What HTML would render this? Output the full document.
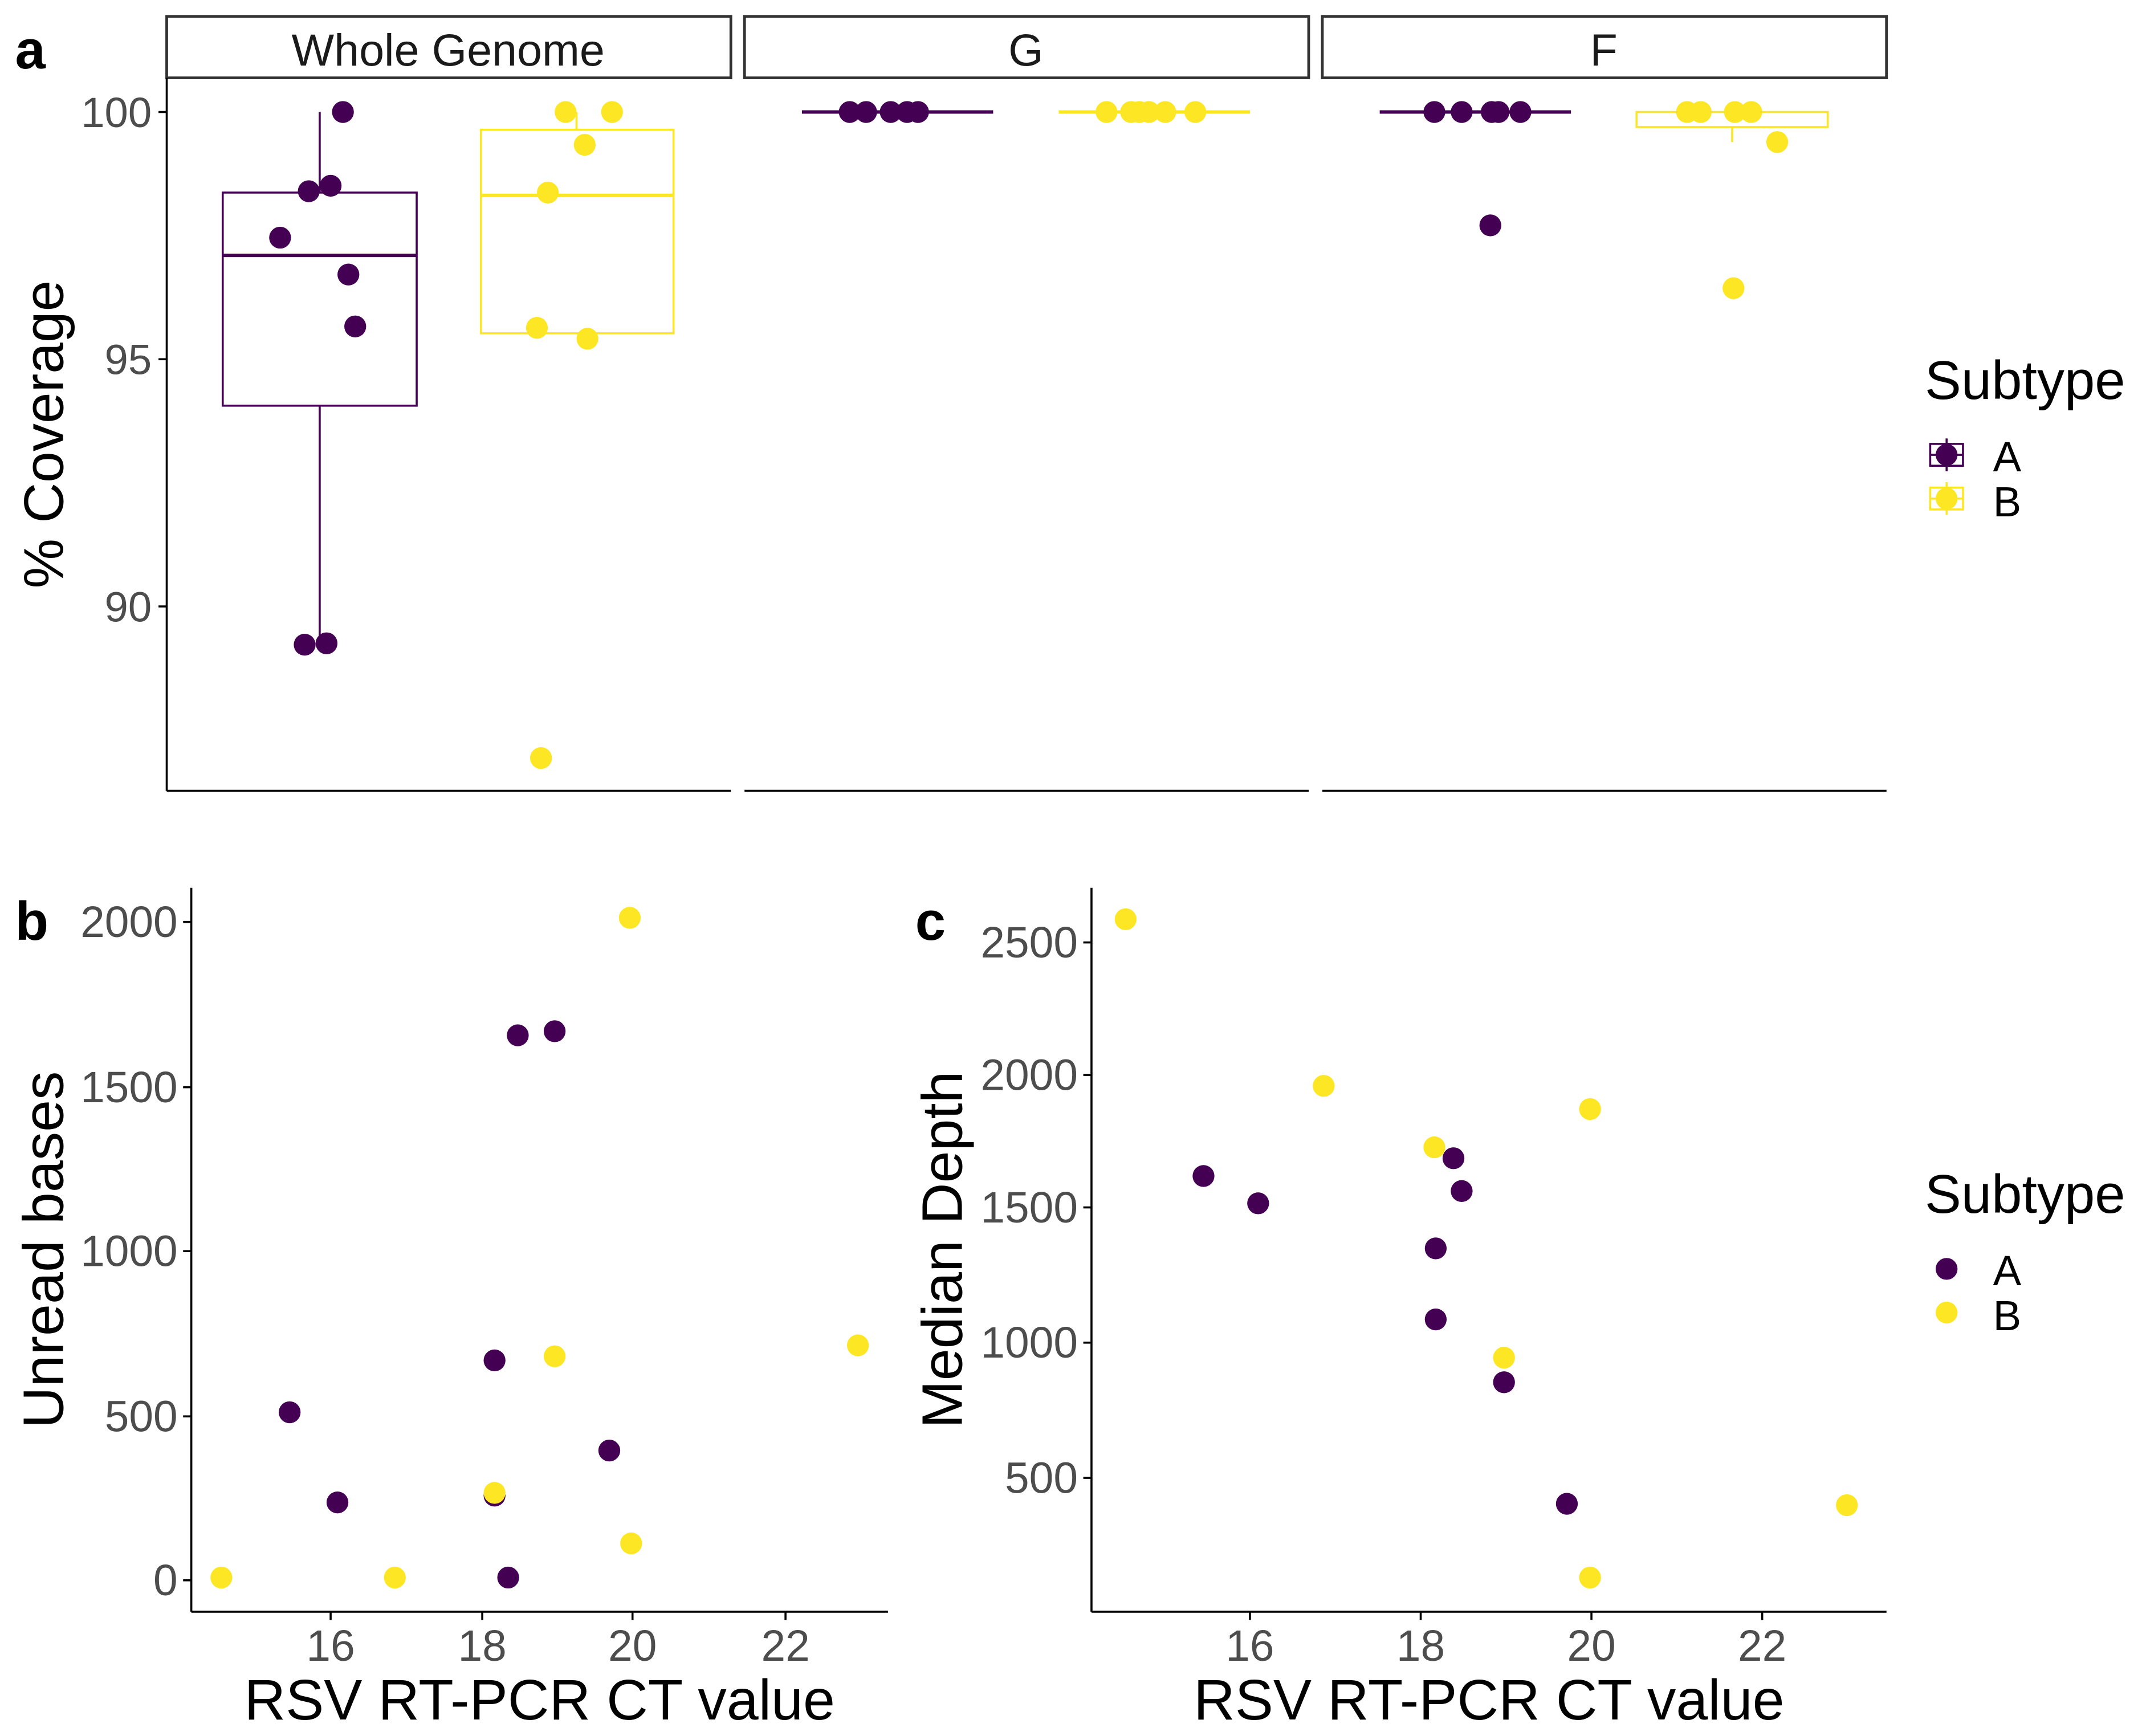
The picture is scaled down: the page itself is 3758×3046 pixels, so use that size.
<!DOCTYPE html>
<html><head><meta charset="utf-8"><style>html,body{margin:0;padding:0;background:#fff}svg{display:block}</style></head><body>
<svg xmlns="http://www.w3.org/2000/svg" width="3758" height="3046" viewBox="0 0 1568 1271" font-family="Liberation Sans, sans-serif">
<rect width="1568" height="1271" fill="#fff"/>
<g font-weight="bold" font-size="40" fill="#000">
<text x="11" y="50">a</text><text x="11" y="688">b</text><text x="670" y="688">c</text></g>
<!-- strips -->
<g fill="#fff" stroke="#333" stroke-width="2">
<rect x="122" y="12" width="413" height="45"/><rect x="545" y="12" width="413" height="45"/><rect x="968" y="12" width="413" height="45"/></g>
<g font-size="33" fill="#1a1a1a" text-anchor="middle">
<text x="328" y="48">Whole Genome</text><text x="751" y="48">G</text><text x="1174" y="48">F</text></g>
<!-- axes a -->
<g stroke="#000" stroke-width="1.5" fill="none">
<line x1="122" y1="57" x2="122" y2="579"/>
<line x1="122" y1="579" x2="535" y2="579"/><line x1="545" y1="579" x2="958" y2="579"/><line x1="968" y1="579" x2="1381" y2="579"/>
<line x1="116" y1="82" x2="122" y2="82"/><line x1="116" y1="263" x2="122" y2="263"/><line x1="116" y1="444" x2="122" y2="444"/></g>
<g font-size="31" fill="#4d4d4d" text-anchor="end">
<text x="111" y="93">100</text><text x="111" y="274">95</text><text x="111" y="455">90</text></g>
<text transform="translate(46,318) rotate(-90)" font-size="41" text-anchor="middle" fill="#000">% Coverage</text>
<!-- boxes -->
<g fill="none" stroke-width="1.5">
<g stroke="#440154">
<line x1="234" y1="82" x2="234" y2="141"/><line x1="234" y1="297" x2="234" y2="470"/>
<rect x="163" y="141" width="142" height="156"/><line x1="163" y1="187" x2="305" y2="187" stroke-width="2.5"/>
<line x1="587" y1="82" x2="727" y2="82" stroke-width="2.5"/>
<line x1="1010" y1="82" x2="1150" y2="82" stroke-width="2.5"/></g>
<g stroke="#FDE725">
<line x1="422" y1="82" x2="422" y2="95"/>
<rect x="352" y="95" width="141" height="149"/><line x1="352" y1="143" x2="493" y2="143" stroke-width="2.5"/>
<line x1="775" y1="82" x2="915" y2="82" stroke-width="2.5"/>
<rect x="1198" y="82" width="140" height="11"/><line x1="1268" y1="93" x2="1268" y2="104"/></g></g>
<g fill="#440154">
<circle cx="251" cy="82" r="8"/><circle cx="226" cy="140" r="8"/><circle cx="242" cy="136" r="8"/><circle cx="205" cy="174" r="8"/><circle cx="255" cy="201" r="8"/><circle cx="260" cy="239" r="8"/><circle cx="223" cy="472" r="8"/><circle cx="239" cy="471" r="8"/>
<circle cx="622" cy="82" r="8"/><circle cx="634" cy="82" r="8"/><circle cx="652" cy="82" r="8"/><circle cx="664" cy="82" r="8"/><circle cx="672" cy="82" r="8"/>
<circle cx="1050" cy="82" r="8"/><circle cx="1070" cy="82" r="8"/><circle cx="1092" cy="82" r="8"/><circle cx="1097" cy="82" r="8"/><circle cx="1113" cy="82" r="8"/><circle cx="1091" cy="165" r="8"/></g>
<g fill="#FDE725">
<circle cx="414" cy="82" r="8"/><circle cx="448" cy="82" r="8"/><circle cx="428" cy="106" r="8"/><circle cx="401" cy="141" r="8"/><circle cx="393" cy="240" r="8"/><circle cx="430" cy="248" r="8"/><circle cx="396" cy="555" r="8"/>
<circle cx="810" cy="82" r="8"/><circle cx="828" cy="82" r="8"/><circle cx="834" cy="82" r="8"/><circle cx="841" cy="82" r="8"/><circle cx="853" cy="82" r="8"/><circle cx="875" cy="82" r="8"/>
<circle cx="1235" cy="82" r="8"/><circle cx="1245" cy="82" r="8"/><circle cx="1270" cy="82" r="8"/><circle cx="1282" cy="82" r="8"/><circle cx="1301" cy="104" r="8"/><circle cx="1269" cy="211" r="8"/></g>
<!-- legend a -->
<text x="1409" y="292" font-size="40" fill="#000">Subtype</text>
<g stroke-width="1.5" fill="#fff">
<rect x="1413" y="325" width="24" height="16" stroke="#440154"/><line x1="1413" y1="333" x2="1437" y2="333" stroke="#440154"/><line x1="1425" y1="321" x2="1425" y2="345" stroke="#440154"/>
<rect x="1413" y="357" width="24" height="16" stroke="#FDE725"/><line x1="1413" y1="365" x2="1437" y2="365" stroke="#FDE725"/><line x1="1425" y1="353" x2="1425" y2="377" stroke="#FDE725"/></g>
<circle cx="1425" cy="333" r="8" fill="#440154"/><circle cx="1425" cy="365" r="8" fill="#FDE725"/>
<g font-size="31" fill="#000"><text x="1459" y="345">A</text><text x="1459" y="378">B</text></g>
<!-- panel b -->
<g stroke="#000" stroke-width="1.5">
<line x1="140" y1="650" x2="140" y2="1180"/><line x1="140" y1="1180" x2="650" y2="1180"/>
<line x1="134" y1="675" x2="140" y2="675"/><line x1="134" y1="796" x2="140" y2="796"/><line x1="134" y1="916" x2="140" y2="916"/><line x1="134" y1="1037" x2="140" y2="1037"/><line x1="134" y1="1157" x2="140" y2="1157"/>
<line x1="242" y1="1180" x2="242" y2="1186"/><line x1="353" y1="1180" x2="353" y2="1186"/><line x1="463" y1="1180" x2="463" y2="1186"/><line x1="575" y1="1180" x2="575" y2="1186"/></g>
<g font-size="32" fill="#4d4d4d" text-anchor="end">
<text x="130" y="686">2000</text><text x="130" y="807">1500</text><text x="130" y="927">1000</text><text x="130" y="1048">500</text><text x="130" y="1168">0</text></g>
<g font-size="32" fill="#4d4d4d" text-anchor="middle">
<text x="242" y="1216">16</text><text x="353" y="1216">18</text><text x="463" y="1216">20</text><text x="575" y="1216">22</text></g>
<text x="395" y="1259" font-size="42" text-anchor="middle">RSV RT-PCR CT value</text>
<text transform="translate(46,915) rotate(-90)" font-size="42" text-anchor="middle">Unread bases</text>
<g fill="#440154">
<circle cx="212" cy="1034" r="8"/><circle cx="247" cy="1100" r="8"/><circle cx="362" cy="996" r="8"/><circle cx="362" cy="1095" r="8"/><circle cx="372" cy="1155" r="8"/><circle cx="379" cy="758" r="8"/><circle cx="406" cy="755" r="8"/><circle cx="446" cy="1062" r="8"/></g>
<g fill="#FDE725">
<circle cx="162" cy="1155" r="8"/><circle cx="289" cy="1155" r="8"/><circle cx="362" cy="1093" r="8"/><circle cx="406" cy="993" r="8"/><circle cx="461" cy="672" r="8"/><circle cx="462" cy="1130" r="8"/><circle cx="628" cy="985" r="8"/></g>
<!-- panel c -->
<g stroke="#000" stroke-width="1.5">
<line x1="799" y1="650" x2="799" y2="1180"/><line x1="799" y1="1180" x2="1381" y2="1180"/>
<line x1="793" y1="690" x2="799" y2="690"/><line x1="793" y1="787" x2="799" y2="787"/><line x1="793" y1="884" x2="799" y2="884"/><line x1="793" y1="983" x2="799" y2="983"/><line x1="793" y1="1082" x2="799" y2="1082"/>
<line x1="915" y1="1180" x2="915" y2="1186"/><line x1="1040" y1="1180" x2="1040" y2="1186"/><line x1="1165" y1="1180" x2="1165" y2="1186"/><line x1="1290" y1="1180" x2="1290" y2="1186"/></g>
<g font-size="32" fill="#4d4d4d" text-anchor="end">
<text x="789" y="701">2500</text><text x="789" y="798">2000</text><text x="789" y="895">1500</text><text x="789" y="994">1000</text><text x="789" y="1093">500</text></g>
<g font-size="32" fill="#4d4d4d" text-anchor="middle">
<text x="915" y="1216">16</text><text x="1040" y="1216">18</text><text x="1165" y="1216">20</text><text x="1290" y="1216">22</text></g>
<text x="1090" y="1259" font-size="42" text-anchor="middle">RSV RT-PCR CT value</text>
<text transform="translate(704,915) rotate(-90)" font-size="42" text-anchor="middle">Median Depth</text>
<g fill="#440154">
<circle cx="881" cy="861" r="8"/><circle cx="921" cy="881" r="8"/><circle cx="1064" cy="848" r="8"/><circle cx="1070" cy="872" r="8"/><circle cx="1051" cy="914" r="8"/><circle cx="1051" cy="966" r="8"/><circle cx="1101" cy="1012" r="8"/><circle cx="1147" cy="1101" r="8"/></g>
<g fill="#FDE725">
<circle cx="824" cy="673" r="8"/><circle cx="969" cy="795" r="8"/><circle cx="1050" cy="840" r="8"/><circle cx="1164" cy="812" r="8"/><circle cx="1101" cy="994" r="8"/><circle cx="1352" cy="1102" r="8"/><circle cx="1164" cy="1155" r="8"/></g>
<!-- legend c -->
<text x="1409" y="888" font-size="40">Subtype</text>
<circle cx="1425" cy="929" r="8" fill="#440154"/><circle cx="1425" cy="961" r="8" fill="#FDE725"/>
<g font-size="31"><text x="1459" y="941">A</text><text x="1459" y="974">B</text></g>
</svg>
</body></html>
